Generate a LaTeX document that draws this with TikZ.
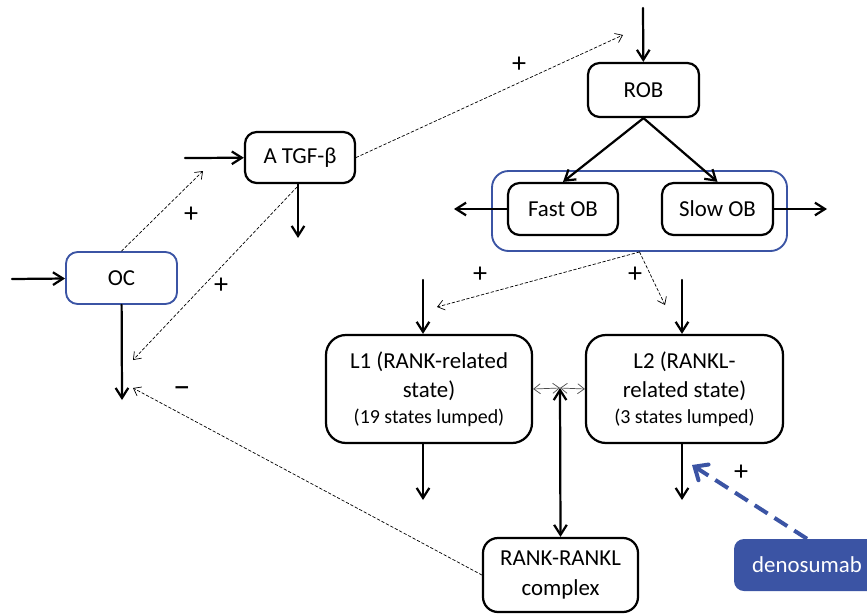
\documentclass[tikz,border=0pt]{standalone}
\usepackage{fontspec}
\setmainfont{Carlito}
\usetikzlibrary{arrows.meta}
\definecolor{cellblue}{RGB}{59,84,164}
\begin{document}
\begin{tikzpicture}[x=0.03cm, y=-0.03cm, line join=round, line cap=round,
  font=\fontsize{19.5}{25}\selectfont,
  >={Straight Barb[length=3mm,width=3.8mm]},
  box/.style={draw, line width=1.9pt, rounded corners=3.5mm, align=center, inner sep=0pt},
  cell/.style={box, draw=cellblue, line width=1.6pt},
  flow/.style={->, line width=1.9pt},
  fb/.style={-{Straight Barb[length=2mm,width=3mm]}, line width=0.6pt, dash pattern=on 2.5pt off 1.8pt},
  lnk/.style={{Straight Barb[length=2mm,width=3mm]}-{Straight Barb[length=2mm,width=3mm]}, line width=0.6pt, black!70},
  sgn/.style={font=\fontsize{24}{24}\selectfont}]
\useasboundingbox (0,0) rectangle (867,613);
% compartments
\node[cell, minimum width=3.33cm, minimum height=1.56cm] (OC) at (121.5,278) {OC};
\node[box, minimum width=3.3cm, minimum height=1.53cm] (TGF) at (300,157.5) {A TGF-β};
\node[box, minimum width=3.33cm, minimum height=1.62cm] (ROB) at (643.5,90) {ROB};
\node[cell, rounded corners=5mm, minimum width=8.85cm, minimum height=2.4cm] (OB) at (639.5,211) {};
\node[box, minimum width=3.3cm, minimum height=1.56cm] (FOB) at (563,209) {Fast OB};
\node[box, minimum width=3.33cm, minimum height=1.56cm] (SOB) at (717.5,209) {Slow OB};
\node[box, rounded corners=6mm, minimum width=6.18cm, minimum height=3.24cm] (L1) at (429,389)
  {L1 (RANK-related\\state)\\[-3pt]{\fontsize{17}{20}\selectfont (19 states lumped)}};
\node[box, rounded corners=6mm, minimum width=5.91cm, minimum height=3.24cm] (L2) at (684.5,389)
  {L2 (RANKL-\\related state)\\[-3pt]{\fontsize{17}{20}\selectfont (3 states lumped)}};
\node[box, rounded corners=4.5mm, minimum width=4.65cm, minimum height=2.22cm] (RR) at (560.5,575)
  {RANK-RANKL\\complex};
\node[fill=cellblue, text=white, rounded corners=3mm, minimum width=4.38cm, minimum height=1.56cm] (deno) at (807,565) {denosumab};
% free ends
\path
(12,279) coordinate (OCin)
(122,400) coordinate (OCout)
(185,158) coordinate (TGFin)
(298,238) coordinate (TGFout)
(643,8) coordinate (ROBin)
(454,209) coordinate (FOBout)
(827,209) coordinate (SOBout)
(423,280) coordinate (L1in)
(423,500) coordinate (L1out)
(682,280) coordinate (L2in)
(682,500) coordinate (L2out)
(560,388) coordinate (mid)
;
\draw[flow] (OCin) -- (OC);
\draw[flow] (OC) -- (OCout);
\draw[flow] (TGFin) -- (TGF);
\draw[flow] (TGF.south -| TGFout) -- (TGFout);
\draw[flow] (ROBin) -- (ROB);
\draw[flow] (ROB.south) -- (FOB.north);
\draw[flow] (ROB.south) -- (SOB.north);
\draw[flow] (FOB) -- (FOBout);
\draw[flow] (SOB) -- (SOBout);
\draw[flow] (L1in) -- (L1in |- L1.north);
\draw[flow] (L1.south -| L1out) -- (L1out);
\draw[flow] (L2in) -- (L2in |- L2.north);
\draw[flow] (L2.south -| L2out) -- (L2out);
\draw[flow, <->] (mid) -- (RR.north);
\draw[lnk] (L1.east) -- (mid);
\draw[lnk] (mid) -- (L2.west);
% regulation
\draw[fb] (OC.north) -- (203,171);
\draw[fb] (297,187) -- (133,360);
\draw[fb] (TGF.east) -- (623,35);
\draw[fb] (OB.south) -- (437,307);
\draw[fb] (OB.south) -- (665,305);
\draw[fb] (RR.west) -- (133,388);
\draw[cellblue, line width=3.4pt, line cap=butt, dash pattern=on 13pt off 7pt,
  -{Straight Barb[length=3.2mm,width=5.6mm,line cap=round]}] (deno.north) -- (692,465);
\foreach \x/\y/\s in {191/215/+, 221/286/+, 519/65/+, 480/275/+, 635/275/+, 741/473/+}
\path (\x,\y) node[sgn]{\s};
\path (182,392) node[font=\fontsize{30}{30}\selectfont]{\textendash};
\end{tikzpicture}
\end{document}
